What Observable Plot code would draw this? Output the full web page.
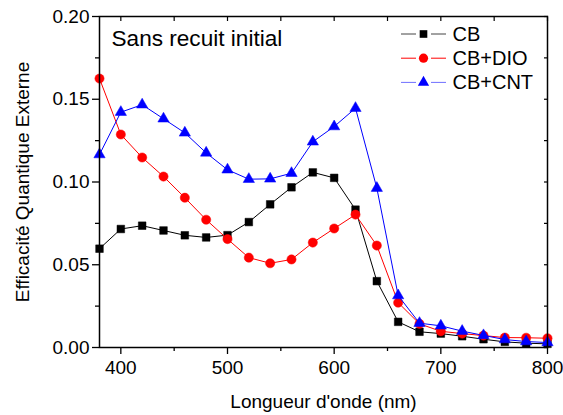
<!DOCTYPE html>
<html>
<head>
<meta charset="utf-8">
<script src="https://cdn.jsdelivr.net/npm/d3@7"></script>
<script src="https://cdn.jsdelivr.net/npm/@observablehq/plot@0.6"></script>
<style>
  html, body { margin: 0; padding: 0; background: #fff; }
  #wrap { position: relative; width: 563px; height: 415px; font-family: "Liberation Sans", Arial, sans-serif; }
  #overlay { position: absolute; left: 0; top: 0; pointer-events: none; }
</style>
</head>
<body>
<div id="wrap"></div>
<script>
// ---- data ----
const wavelength = [380, 400, 420, 440, 460, 480, 500, 520, 540, 560, 580, 600, 620, 640, 660, 680, 700, 720, 740, 760, 780, 800];
const cb     = [0.0597, 0.0716, 0.0736, 0.0707, 0.0678, 0.0665, 0.0679, 0.0758, 0.0865, 0.0968, 0.1058, 0.1025, 0.0833, 0.0401, 0.0155, 0.0095, 0.0084, 0.0068, 0.0050, 0.0034, 0.0026, 0.0022];
const cbDio  = [0.1625, 0.1287, 0.1148, 0.1033, 0.0905, 0.0772, 0.0655, 0.0543, 0.0509, 0.0532, 0.0634, 0.0719, 0.0803, 0.0616, 0.0271, 0.0143, 0.0098, 0.0084, 0.0072, 0.0060, 0.0059, 0.0056];
const cbCnt  = [0.1166, 0.1422, 0.1467, 0.1382, 0.1297, 0.1176, 0.1074, 0.1017, 0.1019, 0.1053, 0.1243, 0.1335, 0.1446, 0.0963, 0.0314, 0.0147, 0.0131, 0.0099, 0.0073, 0.0048, 0.0036, 0.0030];
const seriesNames = ["CB", "CB+DIO", "CB+CNT"];
const seriesValues = [cb, cbDio, cbCnt];
const xMajorTicks = [400, 500, 600, 700, 800];
const xMinorTicks = [450, 550, 650, 750];
const yMajorTicks = [0, 0.05, 0.10, 0.15, 0.20];
const yMinorTicks = [0.025, 0.075, 0.125, 0.175];
const xLabel = "Longueur d'onde (nm)";
const yLabel = "Efficacité Quantique Externe";
const annotation = "Sans recuit initial";

// ---- styles ----
const seriesStyle = {
  "CB":     { color: "#000000", legendLine: "#444444", symbol: "square",   r: 4.3 },
  "CB+DIO": { color: "#ff0000", legendLine: "#ff0000", symbol: "circle",   r: 4.6 },
  "CB+CNT": { color: "#0000ff", legendLine: "#6f6fff", symbol: "triangle", r: 4.2 }
};

const table = seriesNames.flatMap((name, i) =>
  wavelength.map((w, j) => ({ series: name, wl: w, v: seriesValues[i][j] })));

const font = "'Liberation Sans', Arial, sans-serif";
const seriesMarks = seriesNames.flatMap(name => {
  const s = seriesStyle[name];
  const d = table.filter(r => r.series === name);
  return [
    Plot.line(d, { x: "wl", y: "v", stroke: s.color, strokeWidth: 1 }),
    Plot.dot(d, { x: "wl", y: "v", symbol: () => s.symbol, r: s.r, fill: s.color, stroke: s.color, strokeWidth: 0.5 })
  ];
});

const chart = Plot.plot({
  width: 563,
  height: 415,
  marginLeft: 99,
  marginRight: 16,
  marginTop: 16,
  marginBottom: 68,
  style: { fontFamily: font, fontSize: "19px", color: "#000", background: "#fff" },
  x: { domain: [380, 800] },
  y: { domain: [0, 0.20] },
  marks: [
    ...seriesMarks,
    Plot.frame({ stroke: "#000", strokeWidth: 1.5 }),
    Plot.axisX({ ticks: xMajorTicks, tickSize: 7, tickPadding: 6, tickFormat: d => String(d), label: null, strokeWidth: 1.3, fontSize: 19 }),
    Plot.axisX({ ticks: xMinorTicks, tickSize: 4, tickFormat: () => "", label: null, strokeWidth: 1.3 }),
    Plot.axisY({ ticks: yMajorTicks, tickSize: 7, tickPadding: 3, tickFormat: d3.format(".2f"), label: null, strokeWidth: 1.3, fontSize: 19 }),
    Plot.axisY({ ticks: yMinorTicks, tickSize: 4, tickFormat: () => "", label: null, strokeWidth: 1.3 }),
    Plot.axisX({ anchor: "top", ticks: [...xMajorTicks, ...xMinorTicks], tickSize: 4, dy: 4, tickFormat: () => "", label: null, strokeWidth: 1.2 }),
    Plot.axisY({ anchor: "right", ticks: [...yMajorTicks, ...yMinorTicks], tickSize: 4, dx: -4, tickFormat: () => "", label: null, strokeWidth: 1.2 }),
    Plot.text([xLabel], { text: d => d, frameAnchor: "bottom", textAnchor: "middle", lineAnchor: "bottom", dy: 60, fontSize: 19, fill: "#000" }),
    Plot.text([yLabel], { text: d => d, frameAnchor: "left", textAnchor: "middle", lineAnchor: "bottom", rotate: -90, dx: -71, fontSize: 19, fill: "#000" }),
    Plot.text([annotation], { text: d => d, frameAnchor: "top-left", textAnchor: "start", lineAnchor: "bottom", dx: 12, dy: 29, fontSize: 22.6, fill: "#000" })
  ]
});

const wrap = document.getElementById("wrap");
wrap.appendChild(chart);

// ---- legend overlay ----
const legendRows = seriesNames.map((name, i) => ({ name, i }));
const svg = d3.select(wrap).append("svg")
  .attr("id", "overlay").attr("width", 563).attr("height", 415);
const lg = svg.append("g").attr("transform", "translate(401,34)");
const symbolMap = { square: d3.symbolSquare, circle: d3.symbolCircle, triangle: d3.symbolTriangle };
legendRows.forEach(({ name, i }) => {
  const s = seriesStyle[name];
  const g = lg.append("g").attr("transform", `translate(0,${i * 24.2})`);
  g.append("line").attr("x1", 0).attr("x2", 15).attr("y1", 0).attr("y2", 0).attr("stroke", s.legendLine).attr("stroke-width", 1);
  g.append("line").attr("x1", 30).attr("x2", 45).attr("y1", 0).attr("y2", 0).attr("stroke", s.legendLine).attr("stroke-width", 1);
  g.append("path").attr("transform", "translate(22.5,0)")
    .attr("d", d3.symbol(symbolMap[s.symbol], Math.PI * s.r * s.r)())
    .attr("fill", s.color);
  g.append("text").attr("x", 51.5).attr("y", 7).attr("font-size", 20).attr("font-family", font).attr("fill", "#000").text(name);
});
</script>
</body>
</html>
